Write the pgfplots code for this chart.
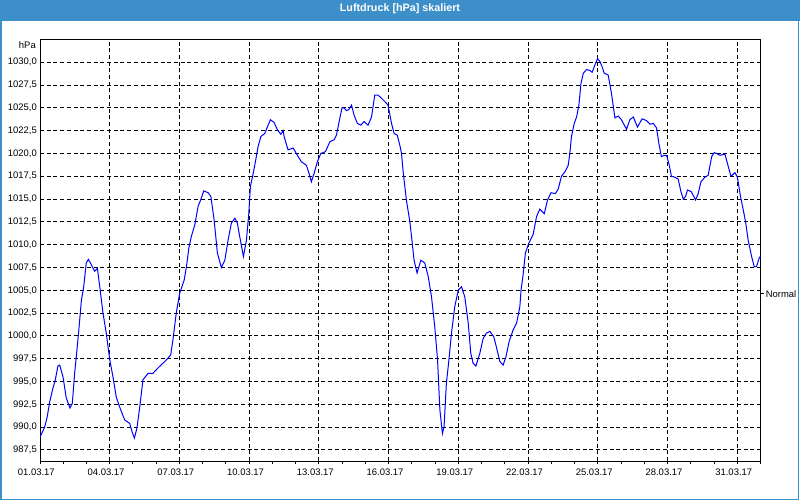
\documentclass[border=0pt]{standalone}
\usepackage{fontspec}
\setmainfont{Liberation Sans}
\usepackage{pgfplots}
\usepackage{pgfplotstable}
\pgfplotsset{compat=1.18}
\definecolor{titleblue}{RGB}{60,143,200}
\pgfplotstableread{
day p
0.00 988.9
0.20 990.0
0.30 991.0
0.42 992.8
0.56 994.3
0.66 995.2
0.77 996.7
0.85 996.8
0.99 995.5
1.13 993.2
1.29 992.1
1.39 992.6
1.49 995.9
1.56 997.7
1.67 1000.65
1.78 1003.9
1.88 1005.4
1.99 1008.0
2.08 1008.4
2.21 1007.8
2.35 1007.1
2.47 1007.4
2.57 1005.4
2.71 1002.5
2.85 1000.3
3.00 997.4
3.14 995.5
3.28 993.3
3.47 991.9
3.64 990.8
3.86 990.4
3.96 989.5
4.06 988.8
4.17 989.9
4.29 992.2
4.43 995.2
4.65 995.9
4.86 995.9
5.08 996.5
5.37 997.2
5.62 997.9
5.72 999.6
5.86 1002.5
6.01 1004.7
6.20 1006.1
6.30 1007.6
6.40 1009.6
6.51 1010.9
6.66 1012.2
6.80 1014.2
6.94 1015.1
7.04 1015.9
7.23 1015.7
7.35 1015.3
7.49 1012.7
7.63 1009.1
7.80 1007.5
7.95 1008.3
8.09 1010.5
8.23 1012.35
8.38 1012.9
8.49 1012.35
8.59 1010.9
8.75 1008.7
8.88 1010.5
8.98 1013.4
9.05 1016.4
9.17 1017.8
9.28 1019.3
9.38 1020.75
9.50 1021.85
9.67 1022.2
9.78 1022.9
9.91 1023.7
10.07 1023.4
10.21 1022.6
10.36 1022.1
10.46 1022.5
10.50 1021.85
10.67 1020.4
10.89 1020.6
11.07 1019.8
11.24 1019.1
11.46 1018.7
11.60 1017.6
11.67 1016.9
11.79 1017.8
11.93 1019.1
12.08 1020.0
12.28 1020.2
12.47 1021.3
12.65 1021.5
12.75 1022.0
12.90 1023.9
12.99 1025.0
13.08 1025.0
13.18 1024.7
13.28 1024.8
13.40 1025.3
13.51 1024.2
13.65 1023.3
13.80 1023.1
13.94 1023.5
14.11 1023.1
14.26 1024.0
14.40 1026.4
14.54 1026.4
14.69 1026.05
14.83 1025.7
14.97 1025.3
15.12 1023.3
15.23 1022.2
15.37 1022.0
15.49 1020.75
15.55 1020.0
15.62 1018.0
15.76 1014.9
15.91 1012.5
16.01 1010.2
16.09 1008.3
16.22 1006.9
16.38 1008.3
16.55 1008.0
16.70 1006.5
16.84 1004.3
16.98 1001.0
17.10 997.4
17.20 991.9
17.31 989.3
17.38 990.05
17.48 994.8
17.59 997.4
17.70 1000.3
17.84 1003.2
17.99 1005.0
18.13 1005.4
18.27 1004.3
18.42 1001.4
18.53 998.1
18.63 997.0
18.75 996.7
18.92 998.1
19.06 999.7
19.20 1000.3
19.35 1000.5
19.52 999.9
19.63 998.8
19.78 997.2
19.92 996.8
20.04 997.7
20.18 999.4
20.35 1000.65
20.50 1001.4
20.64 1003.2
20.69 1005.0
20.78 1006.7
20.88 1009.1
21.03 1010.2
21.21 1011.1
21.36 1013.1
21.50 1013.9
21.69 1013.4
21.83 1014.9
21.98 1015.7
22.17 1015.6
22.29 1016.1
22.43 1017.5
22.58 1018.0
22.72 1018.7
22.79 1020.0
22.86 1021.85
22.98 1023.3
23.08 1024.0
23.18 1025.3
23.27 1027.7
23.37 1028.8
23.51 1029.2
23.65 1029.1
23.75 1028.9
23.87 1029.7
23.98 1030.4
24.08 1030.1
24.18 1029.5
24.27 1028.8
24.44 1028.6
24.58 1026.6
24.73 1023.9
24.87 1024.1
25.01 1023.7
25.23 1022.65
25.37 1023.7
25.52 1024.0
25.70 1022.9
25.90 1023.8
26.09 1023.6
26.24 1023.2
26.38 1023.3
26.52 1022.8
26.62 1021.1
26.73 1019.65
26.85 1019.8
26.95 1019.8
27.05 1018.9
27.16 1017.5
27.31 1017.4
27.45 1017.2
27.57 1015.8
27.67 1015.0
27.77 1015.3
27.85 1016.0
28.02 1015.8
28.20 1014.9
28.31 1015.6
28.43 1016.9
28.60 1017.4
28.74 1017.6
28.89 1019.65
29.00 1020.1
29.10 1020.0
29.25 1019.8
29.46 1019.95
29.57 1018.9
29.72 1017.5
29.89 1017.9
30.00 1017.4
30.11 1015.6
30.25 1013.8
30.35 1012.5
30.46 1010.5
30.61 1008.7
30.72 1007.6
30.82 1007.6
30.93 1008.5
31.00 1008.8
}\druck
\begin{document}
\begin{tikzpicture}
\useasboundingbox (0bp,0bp) rectangle (800bp,500bp);
\fill[white] (0bp,0bp) rectangle (800bp,500bp);
\fill[titleblue] (0bp,479.3bp) rectangle (800bp,500bp);
\draw[titleblue, line width=1.5bp] (0.75bp,0.75bp) rectangle (798.5bp,480bp);
\node[anchor=base, text=white, inner sep=0pt, font=\fontsize{10.8}{12}\selectfont\bfseries] at (400bp,488.2bp) {Luftdruck [hPa] skaliert};
\begin{axis}[
  at={(40bp,39bp)}, anchor=south west,
  scale only axis, width=720.7bp, height=421bp,
  xmin=0, xmax=31, ymin=986.29, ymax=1032.44,
  clip mode=individual,
  axis line style={black, line width=1bp},
  xtick={0,3,6,9,12,15,18,21,24,27,30},
  xticklabels={01.03.17,04.03.17,07.03.17,10.03.17,13.03.17,16.03.17,19.03.17,22.03.17,25.03.17,28.03.17,31.03.17},
  minor xtick={0,1,...,31},
  ytick={987.5,990,992.5,995,997.5,1000,1002.5,1005,1007.5,1010,1012.5,1015,1017.5,1020,1022.5,1025,1027.5,1030},
  xtick pos=bottom, ytick pos=left,
  tick align=outside, major tick length=3bp, minor tick length=3bp,
  tick style={black, line width=1bp},
  ytick style={draw=none},
  xmajorgrids, ymajorgrids,
  major grid style={black, line width=1bp, dash pattern=on 4bp off 2.7bp},
  /pgf/number format/assume math mode=true,
  ticklabel style={font=\fontsize{9.5}{11}\selectfont, text=black},
  yticklabel style={inner sep=0pt, /pgf/number format/.cd, fixed, fixed zerofill, precision=1, use comma, 1000 sep={}},
  xticklabel style={xshift=-3.7bp, inner sep=0pt, yshift=-5bp},
]
\addplot[blue, line width=1bp] table[x=day, y=p] {\druck};
\node[anchor=north east, inner sep=0pt, font=\fontsize{9.5}{11}\selectfont] at (rel axis cs:0,1) [xshift=-4bp, yshift=-1.7bp] {hPa};
\draw[black, line width=1bp] (axis cs:31,1004.6) -- ++(3bp,0pt) node[right, inner sep=0pt, xshift=1.6bp, font=\fontsize{9.5}{11}\selectfont]{Normal};
\end{axis}
\end{tikzpicture}
\end{document}
